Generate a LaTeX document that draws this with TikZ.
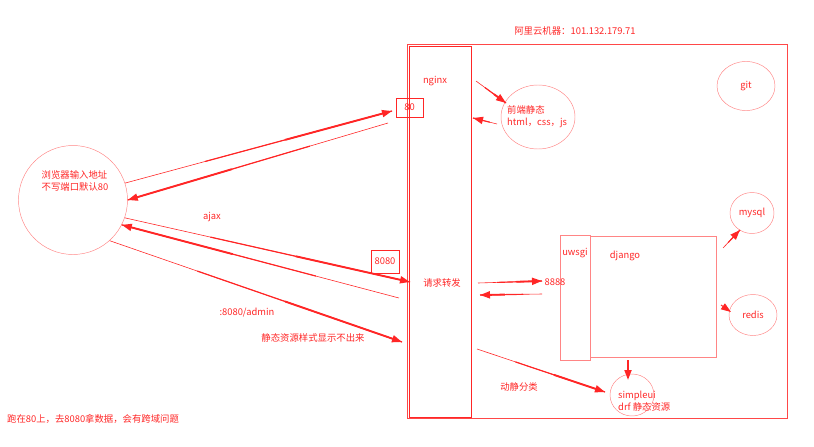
\documentclass[tikz,border=0pt]{standalone}
\usepackage{fontspec}
\setmainfont{Noto Sans CJK SC}
\usepackage{xcolor}
\definecolor{SketchRed}{HTML}{FF2626}
\definecolor{SoftRed}{HTML}{FF8585}
\usetikzlibrary{shapes.geometric, arrows.meta, positioning, calc}

% one pixel of the sketch
\newcommand\pxl[1]{#1*0.03cm}
% hand drawn arrow: thin tail, heavy head
\newcommand\flowarrow[2]{%
  \draw[hairline] (#1) -- (#2);
  \draw[hairline, line width=1pt] ($(#1)!0.3!(#2)$) -- (#2);
  \draw[flow] ($(#1)!0.6!(#2)$) -- (#2);}

\begin{document}
\begin{tikzpicture}[x=0.03cm, y=-0.03cm, font=\fontsize{8}{10}\selectfont,
    every node/.style={text=SketchRed},
    box/.style={rectangle, draw=SketchRed, inner sep=0pt, anchor=north west},
    blob/.style={ellipse, draw=SoftRed, inner sep=0pt},
    hairline/.style={SketchRed, line width=0.5pt},
    flow/.style={-{Triangle[length=\pxl{10}, width=\pxl{7}]}, SketchRed, line width=1.6pt}]
    \useasboundingbox (0,0) rectangle (814,446);

    % server and its parts
    \node (title) at (575,31) {阿里云机器：101.132.179.71};
    \node (server) [box, draw=SketchRed!85, minimum width=\pxl{380}, minimum height=\pxl{374}] at (407,44) {};
    \node (nginx) [box, minimum width=\pxl{62}, minimum height=\pxl{371}] at (409,46) {};
    \node (nginxlabel) at (435,81) {nginx};
    \node (port80) [rectangle, draw=SketchRed, minimum width=\pxl{27}, minimum height=\pxl{19}, inner sep=0pt] at (409.5,107.5) {80};
    \node (static) [blob, minimum width=\pxl{74}, minimum height=\pxl{64}] at (538,117) {};
    \node (statictext) [align=left, anchor=west, inner sep=0pt] at (507,117) {前端静态\\html，css，js};
    \node (git) [blob, minimum width=\pxl{58}, minimum height=\pxl{49}] at (746,86) {git};
    \node (forward) at (442,283) {请求转发};
    \node (port8080) [rectangle, draw=SketchRed, minimum width=\pxl{28}, minimum height=\pxl{23}, inner sep=0pt] at (385,261.5) {8080};

    \node (uwsgi) [box, draw=SoftRed, minimum width=\pxl{30}, minimum height=\pxl{125}] at (560,235) {};
    \node (django) [box, draw=SoftRed, minimum width=\pxl{126}, minimum height=\pxl{121}] at (590,236) {};
    \node (uwsgilabel) at (575,253) {uwsgi};
    \node (djangolabel) at (625,256) {django};
    \node (port8888) at (555,282) {8888};
    \node (mysql) [blob, minimum width=\pxl{44}, minimum height=\pxl{41}] at (752,213) {mysql};
    \node (redis) [blob, minimum width=\pxl{48}, minimum height=\pxl{41}] at (753,315) {redis};
    \node (simpleui) [blob, minimum width=\pxl{44}, minimum height=\pxl{42}] at (632,395) {};
    \node (simpleuitext) [align=left, anchor=west, inner sep=0pt] at (618,401) {simpleui\\drf 静态资源};
    \node (split) at (519,387) {动静分类};

    % browser side
    \node (browser) [circle, draw=SoftRed, minimum size=\pxl{109}] at (73,200) {};
    \node (browsertext) [align=left, inner sep=0pt] at (75,181) {浏览器输入地址\\不写端口默认80};
    \node (ajax) at (212,217) {ajax};
    \node (admin) at (247,313) {:8080/admin};
    \node (nostyle) at (313,338) {静态资源样式显示不出来};
    \node (note) [anchor=west] at (3,419) {跑在80上，去8080拿数据，会有跨域问题};

    % free ends
    \coordinate (in80) at (392,111);
    \coordinate (out80) at (388,123);
    \coordinate (in8080) at (410,282);
    \coordinate (out8080) at (399,298);
    \coordinate (inadmin) at (402,342);
    \coordinate (tostatic) at (476,81);
    \coordinate (atstatic) at (506,103);
    \coordinate (fromstatic) at (497,124);
    \coordinate (atnginx) at (473,118);
    \coordinate (fwdout) at (478,283);
    \coordinate (at8888) at (542,281);
    \coordinate (from8888) at (542,294);
    \coordinate (fwdin) at (480,295);
    \coordinate (dbout) at (723,248);
    \coordinate (atmysql) at (740,230);
    \coordinate (cacheout) at (721,305);
    \coordinate (atredis) at (731,312);
    \coordinate (uiout) at (628,360);
    \coordinate (atui) at (628,380);
    \coordinate (splitout) at (477,349);
    \coordinate (atsplit) at (605,392);

    % requests
    \flowarrow{browser.18}{in80}
    \flowarrow{out80}{browser.east}
    \flowarrow{browser.-19}{in8080}
    \flowarrow{out8080}{browser.-27}
    \flowarrow{browser.-48}{inadmin}
    \flowarrow{tostatic}{atstatic}
    \flowarrow{fromstatic}{atnginx}
    \flowarrow{fwdout}{at8888}
    \flowarrow{from8888}{fwdin}
    \flowarrow{dbout}{atmysql}
    \draw[flow, line width=0.8pt] (cacheout) -- (atredis);
    \draw[flow] (uiout) -- (atui);
    \flowarrow{splitout}{atsplit}
\end{tikzpicture}
\end{document}
